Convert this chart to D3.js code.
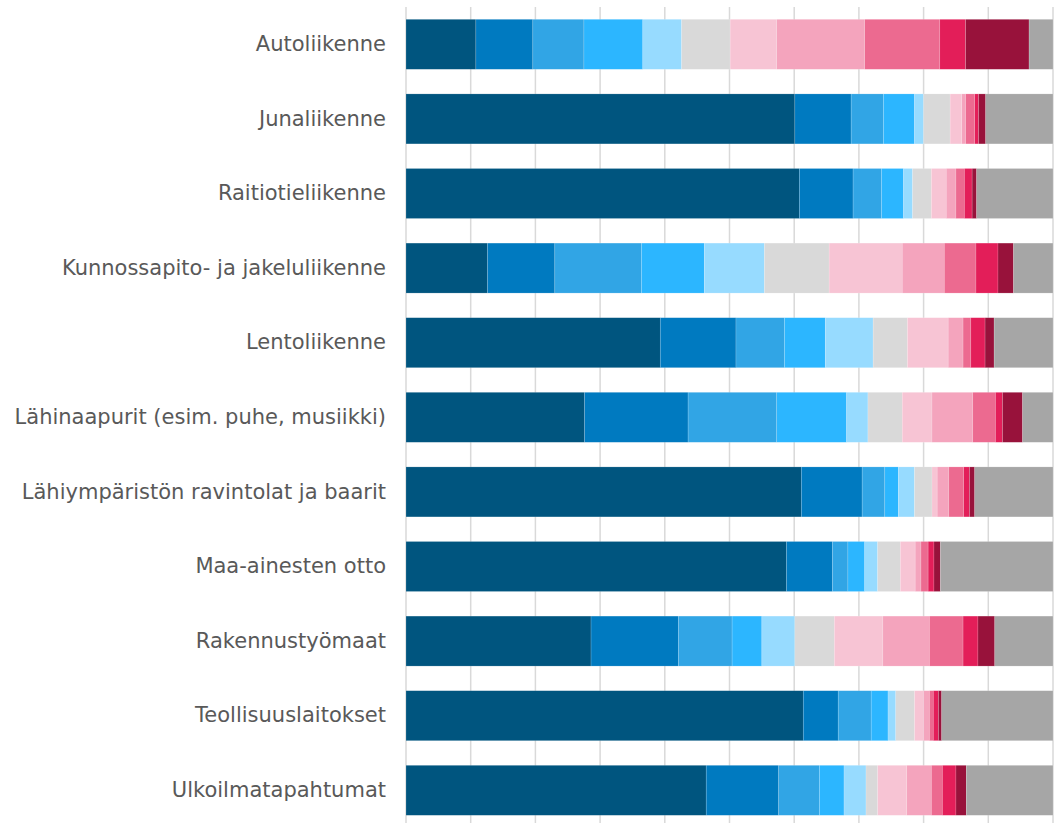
<!DOCTYPE html>
<html>
<head>
<meta charset="utf-8">
<script src="https://cdn.jsdelivr.net/npm/d3@7"></script>
<style>
  html, body { margin: 0; padding: 0; background: #fff; }
  svg { display: block; }
</style>
</head>
<body>
<svg id="chart" width="1054" height="823"></svg>
<script>
// Noise sources (rows, top to bottom)
const categories = [
  "Autoliikenne",
  "Junaliikenne",
  "Raitiotieliikenne",
  "Kunnossapito- ja jakeluliikenne",
  "Lentoliikenne",
  "Lähinaapurit (esim. puhe, musiikki)",
  "Lähiympäristön ravintolat ja baarit",
  "Maa-ainesten otto",
  "Rakennustyömaat",
  "Teollisuuslaitokset",
  "Ulkoilmatapahtumat"
];

// Response classes (stack order, left to right)
const seriesKeys = ["s1","s2","s3","s4","s5","s6","s7","s8","s9","s10","s11","s12"];

// Shares (%) per category, one array per row, in stack order
const autoliikenne      = [10.8, 8.8, 7.9, 9.1, 6.0, 7.5, 7.2, 13.6, 11.6, 4.0, 9.8, 3.7];
const junaliikenne      = [60.1, 8.7, 5.0, 4.8, 1.4, 4.1, 1.8, 0.6, 1.4, 0.6, 1.1, 10.4];
const raitiotie         = [60.8, 8.3, 4.4, 3.4, 1.4, 2.9, 2.3, 1.5, 1.3, 1.2, 0.7, 11.8];
const kunnossapito      = [12.6, 10.4, 13.4, 9.7, 9.3, 10.0, 11.3, 6.5, 4.9, 3.4, 2.4, 6.1];
const lentoliikenne     = [39.3, 11.7, 7.5, 6.3, 7.4, 5.3, 6.3, 2.3, 1.2, 2.2, 1.4, 9.1];
const lahinaapurit      = [27.6, 16.0, 13.7, 10.8, 3.3, 5.3, 4.6, 6.3, 3.5, 1.1, 3.1, 4.7];
const ravintolat        = [61.1, 9.4, 3.5, 2.1, 2.5, 2.7, 0.8, 1.8, 2.3, 0.9, 0.8, 12.1];
const maaAinekset       = [58.8, 7.1, 2.4, 2.6, 2.0, 3.5, 2.3, 0.9, 1.1, 0.9, 1.0, 17.4];
const rakennustyomaat   = [28.6, 13.5, 8.3, 4.6, 5.1, 6.1, 7.5, 7.2, 5.2, 2.3, 2.6, 9.0];
const teollisuus        = [61.4, 5.4, 5.1, 2.6, 1.2, 2.9, 1.4, 0.9, 0.6, 0.8, 0.5, 17.2];
const ulkoilma          = [46.4, 11.2, 6.3, 3.8, 3.4, 1.8, 4.5, 3.8, 1.7, 2.1, 1.6, 13.4];

const rowValues = [autoliikenne, junaliikenne, raitiotie, kunnossapito, lentoliikenne,
  lahinaapurit, ravintolat, maaAinekset, rakennustyomaat, teollisuus, ulkoilma];

const colors = ["#00557F", "#007AC0", "#31A5E5", "#2CB6FF", "#97DBFF", "#D9D9D9",
  "#F7C4D4", "#F4A4BD", "#EC6A90", "#E31E59", "#98123B", "#A6A6A6"];

// Table for d3.stack
const table = categories.map((c, i) => {
  const row = { category: c };
  seriesKeys.forEach((k, j) => { row[k] = rowValues[i][j]; });
  return row;
});

const svg = d3.select("#chart");
const margin = { top: 7, right: 1, bottom: 0, left: 406 };
const height = 823 - margin.top - margin.bottom;

const x = d3.scaleLinear().domain([0, 100]).range([0, 647]);
const y = d3.scaleBand().domain(categories).range([0, 820.6]).paddingInner(0.33).paddingOuter(0.165);

const g = svg.append("g").attr("transform", `translate(${margin.left},${margin.top})`);

// Vertical gridlines every 10 %
g.append("g")
  .selectAll("line")
  .data(x.ticks(10))
  .join("line")
  .attr("x1", d => x(d)).attr("x2", d => x(d))
  .attr("y1", 0).attr("y2", height + 10)
  .attr("stroke", "#D9D9D9")
  .attr("stroke-width", 1.5);

const stacked = d3.stack().keys(seriesKeys)(table);

g.append("g")
  .selectAll("g")
  .data(stacked)
  .join("g")
  .attr("fill", (d, i) => colors[i])
  .selectAll("rect")
  .data(d => d)
  .join("rect")
  .attr("x", d => x(d[0]))
  .attr("y", d => y(d.data.category))
  .attr("width", d => x(d[1]) - x(d[0]))
  .attr("height", y.bandwidth())
  .attr("stroke", "rgba(255,255,255,0.25)")
  .attr("stroke-width", 0.6);

// Category labels
const yAxis = d3.axisLeft(y).tickSize(0).tickPadding(20);
const ax = g.append("g").call(yAxis);
ax.select(".domain").remove();
ax.selectAll("text")
  .attr("fill", "#595959")
  .style("font-family", "'DejaVu Sans', Verdana, sans-serif")
  .style("font-size", "21px");
</script>
</body>
</html>
